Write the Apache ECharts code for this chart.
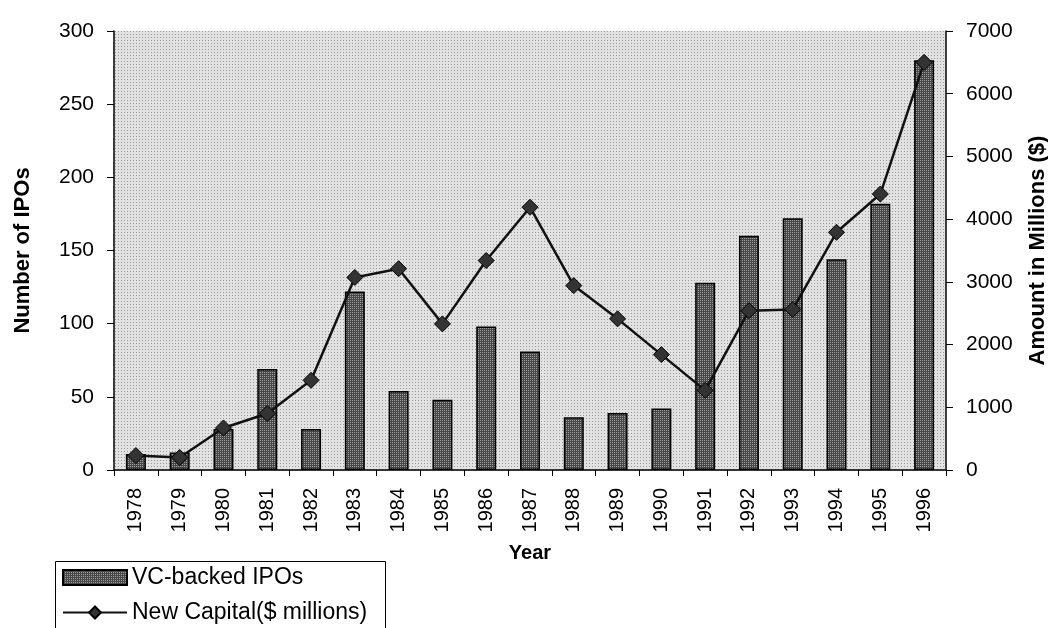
<!DOCTYPE html>
<html>
<head>
<meta charset="utf-8">
<script src="https://cdn.jsdelivr.net/npm/echarts@6/dist/echarts.min.js"></script>
<style>
  html, body { margin: 0; padding: 0; background: #fff; }
  #main { width: 1048px; height: 628px; }
</style>
</head>
<body>
<div id="main"></div>
<script>
// data
var years = ['1978','1979','1980','1981','1982','1983','1984','1985','1986','1987',
             '1988','1989','1990','1991','1992','1993','1994','1995','1996'];
var ipoCounts = [11, 12, 28, 69, 28, 122, 54, 48, 98, 81, 36, 39, 42, 128, 160, 172, 144, 182, 280];
var newCapital = [230, 200, 670, 900, 1430, 3070, 3210, 2330, 3340, 4190,
                  2940, 2410, 1840, 1270, 2540, 2560, 3790, 4400, 6500];
var leftTicks = [0, 50, 100, 150, 200, 250, 300];
var rightTicks = [0, 1000, 2000, 3000, 4000, 5000, 6000, 7000];

// small textures to get the printed look
function makePattern(size, base, dot, dots) {
  var c = document.createElement('canvas');
  c.width = size; c.height = size;
  var ctx = c.getContext('2d');
  ctx.fillStyle = base;
  ctx.fillRect(0, 0, size, size);
  ctx.fillStyle = dot;
  dots.forEach(function (d) { ctx.fillRect(d[0], d[1], 1, 1); });
  return c;
}
var bgPattern = makePattern(3, '#e2e2e2', '#999999', [[1, 1]]);
var barPattern = makePattern(4, '#474747', '#a0a0a0', [[0, 0], [2, 2], [2, 0], [0, 2]]);

var font = 'Liberation Sans, Arial, sans-serif';

var chart = echarts.init(document.getElementById('main'));
chart.setOption({
  animation: false,
  textStyle: { fontFamily: font, color: '#000' },
  grid: {
    left: 114, right: 102, top: 31, bottom: 158,
    outerBoundsMode: 'none',
    containLabel: false,
    show: true,
    backgroundColor: { image: bgPattern, repeat: 'repeat' },
    borderWidth: 0
  },
  // legend frame, open at the bottom like the cropped original
  graphic: [{
    type: 'rect',
    left: 53, top: 559,
    shape: { width: 330, height: 90 },
    style: { fill: 'none', stroke: '#000', lineWidth: 1 }
  }],
  legend: {
    orient: 'vertical',
    left: 62, top: 566,
    padding: 0,
    itemWidth: 64, itemHeight: 15, itemGap: 12,
    textStyle: { fontSize: 23, lineHeight: 23, color: '#000', fontFamily: font },
    data: [{ name: 'VC-backed IPOs', icon: 'rect' }, { name: 'New Capital($ millions)' }]
  },
  xAxis: [{
    type: 'category',
    data: years,
    name: 'Year',
    nameLocation: 'middle',
    nameGap: 73,
    nameTextStyle: { fontSize: 20, fontWeight: 'bold', color: '#000' },
    axisLine: { lineStyle: { color: '#000', width: 1.5 } },
    axisTick: { show: true, length: 6, lineStyle: { color: '#000' } },
    axisLabel: { rotate: 90, fontSize: 20, color: '#000', margin: 18 }
  }, {
    type: 'category',
    data: years,
    position: 'top',
    axisLine: { lineStyle: { color: '#333', type: 'dotted', width: 1.5 } },
    axisTick: { show: false },
    axisLabel: { show: false }
  }],
  yAxis: [{
    type: 'value',
    min: leftTicks[0], max: leftTicks[leftTicks.length - 1], interval: 50,
    name: 'Number of IPOs',
    nameLocation: 'middle',
    nameGap: 80,
    nameRotate: 90,
    nameTextStyle: { fontSize: 22, fontWeight: 'bold', color: '#000' },
    axisLine: { show: true, lineStyle: { color: '#000', width: 1.5 } },
    axisTick: { show: true, length: 7, lineStyle: { color: '#000' } },
    axisLabel: { fontSize: 21, color: '#000', margin: 20 },
    splitLine: { show: false }
  }, {
    type: 'value',
    position: 'right',
    min: rightTicks[0], max: rightTicks[rightTicks.length - 1], interval: 1000,
    name: 'Amount in Millions ($)',
    nameLocation: 'middle',
    nameGap: 81,
    nameRotate: 90,
    nameTextStyle: { fontSize: 22, fontWeight: 'bold', color: '#000' },
    axisLine: { show: true, lineStyle: { color: '#000', width: 1.5 } },
    axisTick: { show: true, length: 7, lineStyle: { color: '#000' } },
    axisLabel: { fontSize: 21, color: '#000', margin: 20, formatter: function (v) { return String(v); } },
    splitLine: { show: false }
  }],
  series: [{
    name: 'VC-backed IPOs',
    type: 'bar',
    yAxisIndex: 0,
    data: ipoCounts,
    barWidth: 20,
    itemStyle: {
      color: { image: barPattern, repeat: 'repeat' },
      borderColor: '#000',
      borderWidth: 1.5
    }
  }, {
    name: 'New Capital($ millions)',
    type: 'line',
    yAxisIndex: 1,
    data: newCapital,
    symbol: 'diamond',
    symbolSize: 16,
    lineStyle: { color: '#111', width: 2.5 },
    itemStyle: { color: '#333', borderColor: '#000', borderWidth: 1 }
  }]
});
</script>
</body>
</html>
